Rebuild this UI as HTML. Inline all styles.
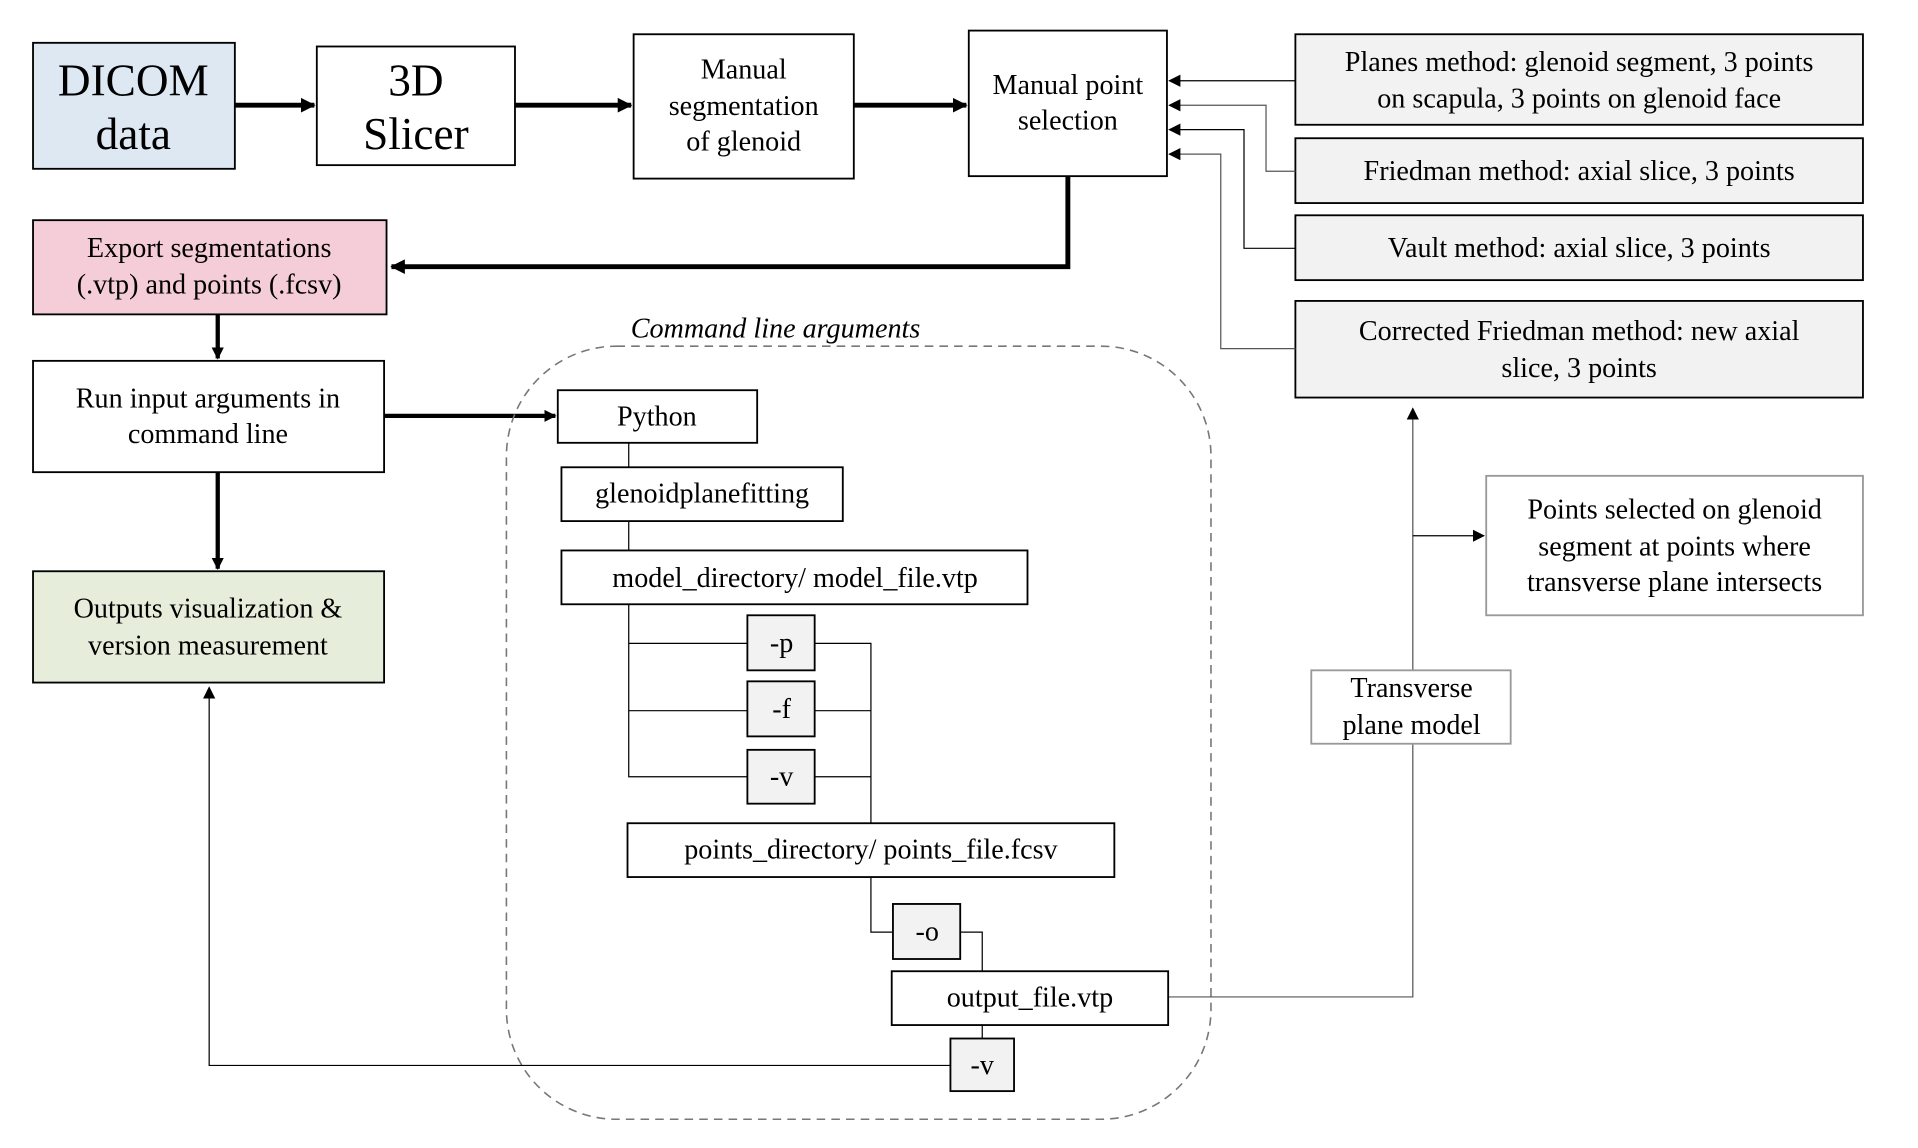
<!DOCTYPE html>
<html><head><meta charset="utf-8"><style>html,body{margin:0;padding:0;background:#fff}svg{display:block}</style></head>
<body>
<svg width="1918" height="1148" viewBox="0 0 1568 938.5" xmlns="http://www.w3.org/2000/svg" font-family="'Liberation Serif', 'Times New Roman', Times, serif">
<defs>
<marker id="a" markerWidth="10" markerHeight="10" refX="9" refY="5" orient="auto" markerUnits="userSpaceOnUse"><path d="M0,0 L10,5 L0,10 z" fill="#000"/></marker>
<marker id="b" markerWidth="12" markerHeight="12" refX="11" refY="6" orient="auto" markerUnits="userSpaceOnUse"><path d="M0,0 L12,6 L0,12 z" fill="#000"/></marker>
</defs>
<g stroke="#000" stroke-width="1.5">
<rect x="27" y="35" width="165" height="103" fill="#dde8f3"/>
<rect x="259" y="38" width="162" height="97" fill="#fff"/>
<rect x="518" y="28" width="180" height="118" fill="#fff"/>
<rect x="792" y="25" width="162" height="119" fill="#fff"/>
<rect x="1059" y="28" width="464" height="74" fill="#f2f2f2"/>
<rect x="1059" y="113" width="464" height="53" fill="#f2f2f2"/>
<rect x="1059" y="176" width="464" height="53" fill="#f2f2f2"/>
<rect x="1059" y="246" width="464" height="79" fill="#f2f2f2"/>
<rect x="27" y="180" width="289" height="77" fill="#f4cdd9"/>
<rect x="27" y="295" width="287" height="91" fill="#fff"/>
<rect x="27" y="467" width="287" height="91" fill="#e6eedb"/>
</g>
<g stroke="#000" stroke-width="4" fill="none">
<line x1="192" y1="86" x2="257" y2="86" marker-end="url(#b)"/>
<line x1="421" y1="86" x2="516" y2="86" marker-end="url(#b)"/>
<line x1="698" y1="86" x2="790" y2="86" marker-end="url(#b)"/>
<polyline points="873,144 873,218 320,218" marker-end="url(#b)"/>
<line x1="178" y1="257" x2="178" y2="293" stroke-width="3.5" marker-end="url(#a)"/>
<line x1="178" y1="386" x2="178" y2="465" stroke-width="3.5" marker-end="url(#a)"/>
<line x1="314" y1="340" x2="454" y2="340" stroke-width="3.5" marker-end="url(#a)"/>
</g>
<g stroke="#555" stroke-width="1" fill="none">
<line x1="1059" y1="66" x2="956" y2="66" stroke="#000" marker-end="url(#a)"/>
<polyline points="1059,140 1035,140 1035,86 956,86" marker-end="url(#a)"/>
<polyline points="1059,203 1017,203 1017,106 956,106" stroke="#000" marker-end="url(#a)"/>
<polyline points="1059,285 998,285 998,126 956,126" marker-end="url(#a)"/>
</g>
<text x="634" y="276" font-size="23" font-style="italic" text-anchor="middle">Command line arguments</text>
<rect x="414" y="283" width="576" height="632" rx="90" ry="90" fill="none" stroke="#777" stroke-width="1.3" stroke-dasharray="7,5"/>
<g stroke="#000" stroke-width="1" fill="none">
<line x1="514" y1="362" x2="514" y2="382"/>
<line x1="514" y1="426" x2="514" y2="450"/>
<polyline points="514,494 514,635 611,635"/>
<line x1="514" y1="526" x2="611" y2="526"/>
<line x1="514" y1="581" x2="611" y2="581"/>
<polyline points="666,526 712,526 712,673"/>
<line x1="666" y1="581" x2="712" y2="581"/>
<line x1="666" y1="635" x2="712" y2="635"/>
<polyline points="712,717 712,762 730,762"/>
<polyline points="785,762 803,762 803,794"/>
<line x1="803" y1="838" x2="803" y2="849"/>
<polyline points="777,871 171,871 171,562" marker-end="url(#a)"/>
</g>
<g stroke="#555" stroke-width="1" fill="none">
<polyline points="955,815 1155,815 1155,334" marker-end="url(#a)"/>
<line x1="1155" y1="438" x2="1213" y2="438" stroke="#000" marker-end="url(#a)"/>
</g>
<g stroke="#000" stroke-width="1.5">
<rect x="456" y="319" width="163" height="43" fill="#fff"/>
<rect x="459" y="382" width="230" height="44" fill="#fff"/>
<rect x="459" y="450" width="381" height="44" fill="#fff"/>
<rect x="611" y="503" width="55" height="45" fill="#f2f2f2"/>
<rect x="611" y="557" width="55" height="45" fill="#f2f2f2"/>
<rect x="611" y="613" width="55" height="44" fill="#f2f2f2"/>
<rect x="513" y="673" width="398" height="44" fill="#fff"/>
<rect x="730" y="739" width="55" height="45" fill="#f2f2f2"/>
<rect x="729" y="794" width="226" height="44" fill="#fff"/>
<rect x="777" y="849" width="52" height="43" fill="#f2f2f2"/>
</g>
<g stroke="#999" stroke-width="1.5">
<rect x="1072" y="548" width="163" height="60" fill="#fff"/>
<rect x="1215" y="389" width="308" height="114" fill="#fff"/>
</g>
<g font-size="37" text-anchor="middle" fill="#000">
<text x="109" y="78">DICOM</text><text x="109" y="122">data</text>
<text x="340" y="78">3D</text><text x="340" y="122">Slicer</text>
</g>
<g font-size="23" text-anchor="middle" fill="#000">
<text x="608" y="64">Manual</text><text x="608" y="94">segmentation</text><text x="608" y="123">of glenoid</text>
<text x="873" y="77">Manual point</text><text x="873" y="106">selection</text>
<text x="1291" y="58">Planes method: glenoid segment, 3 points</text><text x="1291" y="88">on scapula, 3 points on glenoid face</text>
<text x="1291" y="147">Friedman method: axial slice, 3 points</text>
<text x="1291" y="210">Vault method: axial slice, 3 points</text>
<text x="1291" y="278">Corrected Friedman method: new axial</text><text x="1291" y="308">slice, 3 points</text>
<text x="171" y="210">Export segmentations</text><text x="171" y="240">(.vtp) and points (.fcsv)</text>
<text x="170" y="333">Run input arguments in</text><text x="170" y="362">command line</text>
<text x="170" y="505">Outputs visualization &amp;</text><text x="170" y="535">version measurement</text>
<text x="537" y="348">Python</text>
<text x="574" y="411">glenoidplanefitting</text>
<text x="650" y="480">model_directory/ model_file.vtp</text>
<text x="639" y="533">-p</text><text x="639" y="587">-f</text><text x="639" y="642">-v</text>
<text x="712" y="702">points_directory/ points_file.fcsv</text>
<text x="758" y="769">-o</text>
<text x="842" y="823">output_file.vtp</text>
<text x="803" y="878">-v</text>
<text x="1154" y="570">Transverse</text><text x="1154" y="600">plane model</text>
<text x="1369" y="424">Points selected on glenoid</text><text x="1369" y="454">segment at points where</text><text x="1369" y="483">transverse plane intersects</text>
</g>
</svg>
</body></html>
